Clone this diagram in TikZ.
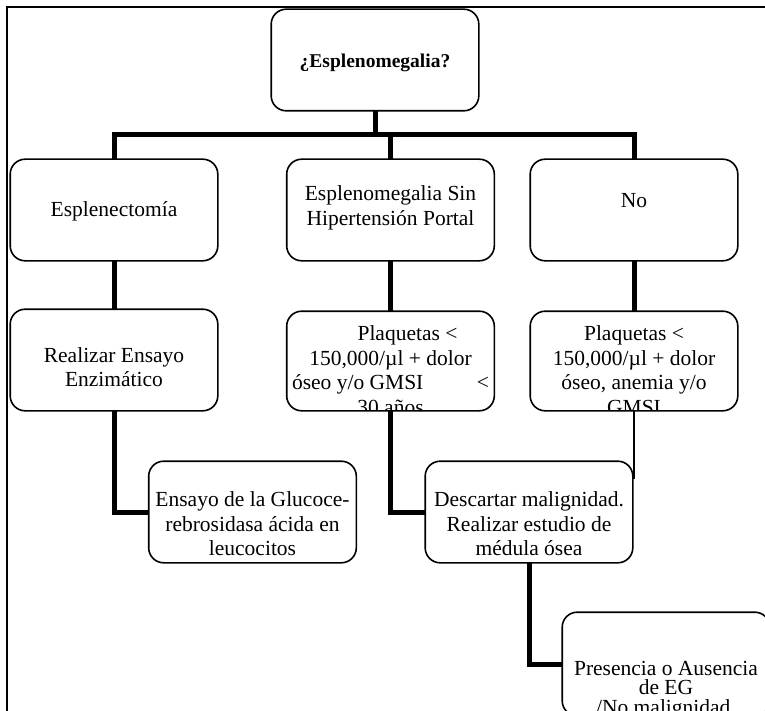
\documentclass[tikz,border=0pt]{standalone}
\usepackage{fontspec}
\setmainfont{Liberation Serif}
\usetikzlibrary{calc}
\tikzset{
  box/.style={draw=black, line width=1.6pt, rounded corners=15pt, fill=white,
              minimum width=206pt, minimum height=100pt, inner sep=0pt},
  txt/.style={align=center, font=\fontsize{21.5}{24.5}\selectfont, inner sep=0pt},
  conn/.style={line width=5pt},
  thinconn/.style={line width=1.3pt},
  framel/.style={line width=2pt},
}
\begin{document}
\begin{tikzpicture}[x=1pt,y=-1pt]
\useasboundingbox (0,0) rectangle (765,711);
\clip (0,0) rectangle (765,711);
\fill[white] (0,0) rectangle (765,711);
% frame
\coordinate (f1) at (7,711);
\coordinate (f2) at (7,7);
\coordinate (f3) at (770,7);
\draw[framel] (f1) -- (f2) -- (f3);
% boxes (positions)
\coordinate (bus) at (375,135);
\path
  (375,60)     node[box] (top) {}
  (114,210)    node[box] (a2) {}
  (390.5,210)  node[box] (b2) {}
  (634,210)    node[box] (c2) {}
  (114,360)    node[box] (a3) {}
  (390.5,361)  node[box, minimum height=98pt] (b3) {}
  (634,361)    node[box, minimum height=98pt] (c3) {}
  (252.5,512)  node[box] (a4) {}
  (529,512)    node[box] (d) {}
  (666,664)    node[box, minimum height=102pt] (e) {};
% connectors
\draw[conn] (top.south) -- (top.south |- bus);
\draw[conn] (a2.north) |- (bus) -| (c2.north);
\draw[conn] (b2.north) -- (b2.north |- bus);
\draw[conn] (a2.south) -- (a3.north);
\draw[conn] (b2.south) -- (b3.north);
\draw[conn] (c2.south) -- (c3.north);
\draw[conn] (a3.south) |- (a4.west);
\draw[conn] (b3.south) |- (d.west);
\draw[conn] (d.south) |- (e.west);
\coordinate (thinend) at ($(c3.south |- d.north)+(0,18)$);
\draw[thinconn] (c3.south) -- (thinend);
% boxes drawn over connectors
\foreach \n in {top,a2,b2,c2,a3,b3,c3,a4,d,e}{
  \draw[line width=1.6pt, rounded corners=15pt, fill=white] (\n.north west) rectangle (\n.south east);
}
% texts
\node[txt, font=\fontsize{19.5}{23}\selectfont\bfseries] (ttop) at (375,63) {¿Esplenomegalia?};
\node[txt] (ta2) at (114,211) {Esplenectomía};
\node[txt] (tb2) at (390.5,208) {Esplenomegalia Sin\\Hipertensión Portal};
\node[txt] (tc2) at (634,201) {No};
\node[txt] (ta3) at (114,367) {Realizar Ensayo\\Enzimático};
\begin{scope}
  \clip[rounded corners=14pt] ($(b3.north west)+(1,1)$) rectangle ($(b3.south east)+(-1,-1)$);
  \node[txt] (tb3) at (390.5,370) {\hspace*{34pt}Plaquetas <\\150,000/µl + dolor\\\makebox[197pt]{óseo y/o GMSI\hfill<}\\30 años};
\end{scope}
\begin{scope}
  \clip[rounded corners=14pt] ($(c3.north west)+(1,1)$) rectangle ($(c3.south east)+(-1,-1)$);
  \node[txt] (tc3) at (634,370) {Plaquetas <\\150,000/µl + dolor\\óseo, anemia y/o\\GMSI};
\end{scope}
\node[txt] (ta4) at (252.5,524) {Ensayo de la Glucoce-\\rebrosidasa ácida en\\leucocitos};
\node[txt] (td) at (529,524) {Descartar malignidad.\\Realizar estudio de\\médula ósea};
\node[txt, font=\fontsize{21.5}{19.5}\selectfont] (te) at (666,690) {Presencia o Ausencia\\de EG\\/No malignidad.};
\end{tikzpicture}
\end{document}
